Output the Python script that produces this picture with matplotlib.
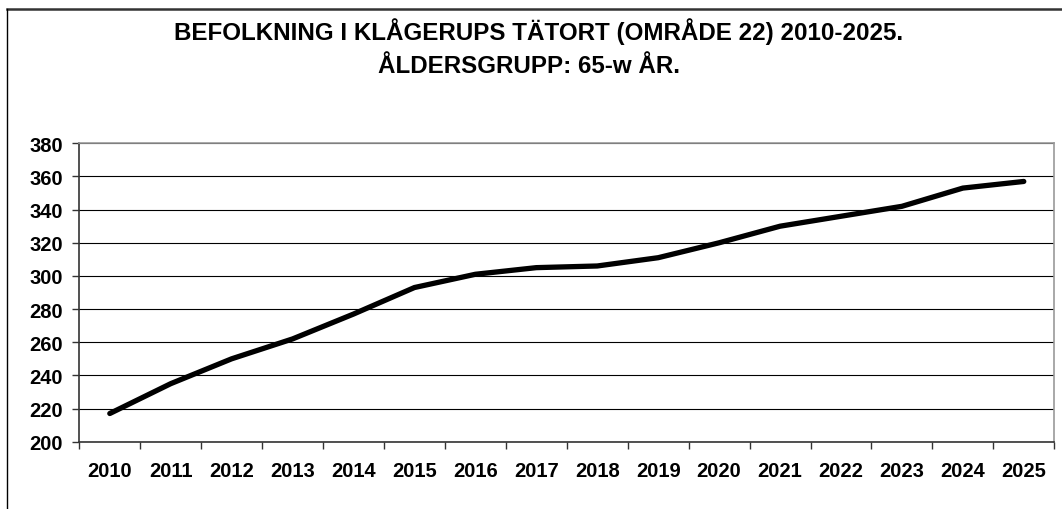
import matplotlib.pyplot as plt
from matplotlib.lines import Line2D
import numpy as np

plt.rcParams["font.family"] = ["Liberation Sans", "DejaVu Sans"]
plt.rcParams["font.weight"] = "bold"

years = [str(y) for y in range(2010, 2026)]
population = [217, 235, 250, 262, 277, 293, 301, 305, 306, 311,
              320, 330, 336, 342, 353, 357]
y_ticks = list(range(200, 381, 20))

fig = plt.figure(figsize=(10.62, 5.10), dpi=100)
ax = fig.add_axes([0.0747, 0.132, 0.918, 0.585])

x = np.arange(len(years))
ax.plot(x, population, color="black", linewidth=3.8, solid_capstyle="round",
        solid_joinstyle="round", zorder=3)

ax.set_xlim(-0.5, len(years) - 0.5)
ax.set_ylim(200, 380)
ax.set_yticks(y_ticks)
ax.yaxis.grid(True, color="black", linewidth=0.8)
ax.set_axisbelow(True)

# category labels centred, tick marks on the boundaries
ax.set_xticks(x)
ax.set_xticklabels(years)
ax.set_xticks(np.arange(-0.5, len(years)), minor=True)
ax.tick_params(axis="x", which="major", length=0, pad=14, labelsize=14.5)
ax.tick_params(axis="x", which="minor", length=5, width=1, color="#333333")
ax.tick_params(axis="y", length=5, width=1, pad=7, labelsize=14.5, color="#333333")

for side in ("top", "right"):
    ax.spines[side].set_color("#999999")
    ax.spines[side].set_linewidth(1.2)
for side in ("left", "bottom"):
    ax.spines[side].set_color("#333333")
    ax.spines[side].set_linewidth(1.2)

fig.text(0.507, 0.939, "BEFOLKNING I KLÅGERUPS TÄTORT (OMRÅDE 22) 2010-2025.",
         ha="center", va="center", fontsize=17.4, fontweight="bold")
fig.text(0.498, 0.869, "ÅLDERSGRUPP: 65-w ÅR.",
         ha="center", va="center", fontsize=17.4, fontweight="bold")

# outer chart frame (only top and left edges visible)
fig.add_artist(Line2D([0.0066, 1.0], [0.981, 0.981], transform=fig.transFigure,
                      color="#333333", linewidth=1.8))
fig.add_artist(Line2D([0.0066, 0.0066], [0.0, 0.981], transform=fig.transFigure,
                      color="black", linewidth=1.0))

fig.savefig("out.png", dpi=100)
